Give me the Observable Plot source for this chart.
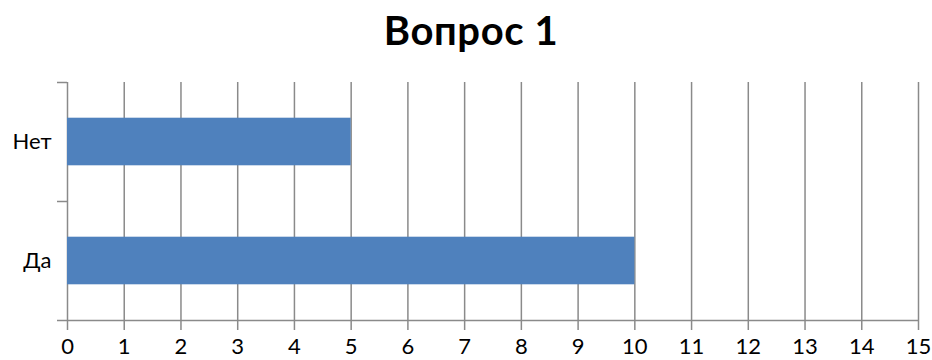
<!DOCTYPE html>
<html>
<head>
<meta charset="utf-8">
<script src="https://cdn.jsdelivr.net/npm/d3@7"></script>
<script src="https://cdn.jsdelivr.net/npm/@observablehq/plot@0.6"></script>
<style>
  html, body { margin: 0; padding: 0; background: #fff; }
  #title { width: 932px; height: 62px; box-sizing: border-box; padding-left: 10px; text-align: center; font-family: Lato, "Open Sans", sans-serif; font-weight: bold; font-size: 40px; letter-spacing: 0.6px; line-height: 60px; color: #000; }
  #chart svg { display: block; }
</style>
</head>
<body>
<div id="title">Вопрос 1</div>
<div id="chart"></div>
<script>
const categories = ["Да", "Нет"];
const values = [10, 5];
const xTicks = [0,1,2,3,4,5,6,7,8,9,10,11,12,13,14,15];
const yBoundaries = [0, 1, 2];

const data = categories.map((c, i) => ({category: c, value: values[i], index: i}));
const grey = "#8a8a8a";

const chart = Plot.plot({
  width: 932,
  height: 298,
  marginTop: 20,
  marginBottom: 40,
  marginLeft: 67,
  marginRight: 14,
  style: {fontFamily: "Lato, 'Open Sans', sans-serif", fontSize: "22px", color: "#000", background: "#fff"},
  x: {domain: [0, 15], ticks: xTicks, label: null},
  y: {domain: [0, categories.length], label: null},
  marks: [
    Plot.ruleX(xTicks, {x: d => d, y1: 0, y2: categories.length, stroke: grey, strokeWidth: 1.5}),
    Plot.ruleY([0], {x1: 0, x2: 15, stroke: grey, strokeWidth: 1.5}),
    Plot.axisX({ticks: xTicks, tickSize: 10, tickPadding: 8, stroke: grey, strokeWidth: 1.5, fill: "#000", fontSize: 22, label: null}),
    Plot.axisY({ticks: yBoundaries, tickSize: 10, tickFormat: () => "", stroke: grey, strokeWidth: 1.5, label: null}),
    Plot.rectX(data, {x1: 0, x2: "value", y1: d => d.index + 0.3, y2: d => d.index + 0.7, fill: "#4f81bd"}),
    Plot.text(data, {x: 0, y: d => d.index + 0.5, text: "category", textAnchor: "end", dx: -16, fill: "#000", fontSize: 22})
  ]
});
document.getElementById("chart").appendChild(chart);
</script>
</body>
</html>
